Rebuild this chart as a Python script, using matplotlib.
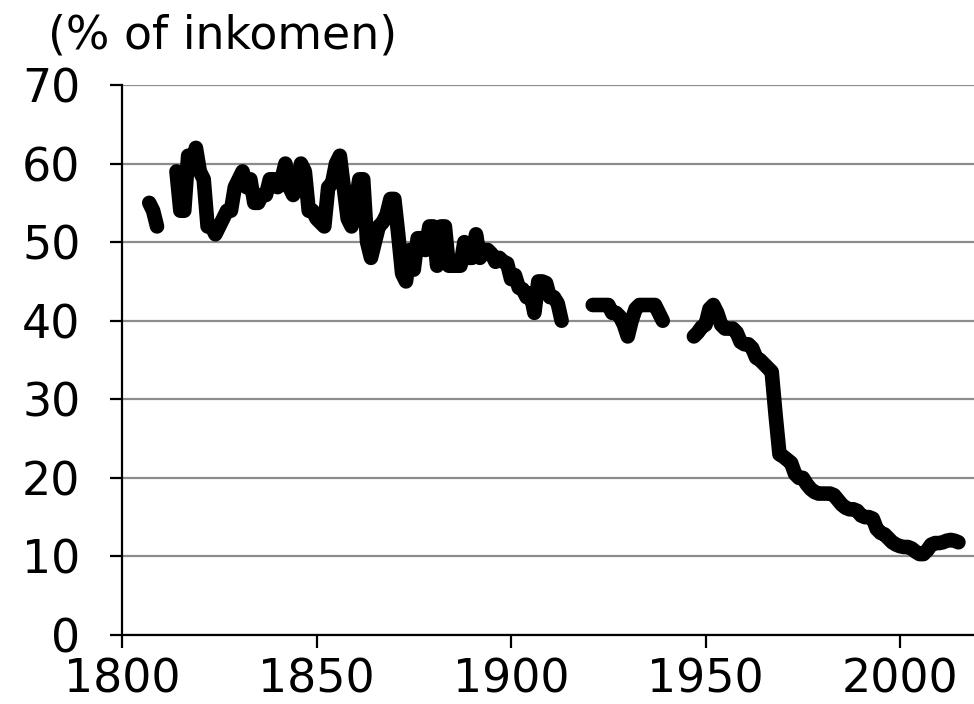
import numpy as np
import matplotlib.pyplot as plt

# share of income (%), annual values, gaps = no data
years_a = [1807, 1808, 1809]
share_a = [55, 54, 52]

years_b = list(range(1814, 1914))
share_b = [59, 54, 54, 61, 60, 62, 59, 58, 52, 52,
           51, 52, 53, 54, 54, 57, 58, 59, 57, 58,
           55, 55, 56, 56, 58, 58, 57, 58, 60, 57,
           56, 57, 60, 59, 54, 54, 53, 52.5, 52, 57,
           57.5, 60, 61, 57, 53, 52, 55, 58, 58, 50,
           48, 50, 52, 52.5, 53.5, 55.5, 55.5, 51, 46, 45,
           49, 46.5, 50.5, 50.5, 49, 52, 52, 47, 52, 52,
           47, 47, 47, 47, 50, 48, 48, 51, 48, 49,
           49, 48.5, 47.5, 48, 47.5, 47.3, 45.3, 45.8, 44.2, 44,
           43, 43.5, 41, 45, 45, 44.8, 43, 43, 42.2, 40]

years_c = list(range(1921, 1940))
share_c = [42, 42, 42, 42, 42, 41, 41, 40.5, 39.5, 38,
           40, 41.5, 42, 42, 42, 42, 42, 41, 40]

years_d = list(range(1947, 2016))
share_d = [38, 38.5, 39.2, 39.5, 41.5, 42, 41, 39.5, 39, 39,
           39, 38.5, 37.3, 37, 37, 36.5, 35.3, 35, 34.5, 34,
           33.5, 28, 23, 22.7, 22.3, 21.9, 20.5, 20, 20, 19.2,
           18.6, 18.2, 18, 18, 18, 18, 17.8, 17.2, 16.6, 16.2,
           16, 16, 15.8, 15.2, 15, 15, 14.8, 13.5, 13, 12.8,
           12.3, 11.8, 11.5, 11.3, 11.2, 11.2, 11, 10.6, 10.3, 10.3,
           10.8, 11.5, 11.7, 11.7, 11.8, 12, 12.1, 12, 11.8]

y_ticks = [0, 10, 20, 30, 40, 50, 60, 70]
x_ticks = [1800, 1850, 1900, 1950, 2000]

fig = plt.figure(figsize=(9.74, 7.04), dpi=100)
ax = fig.add_axes([122 / 974, 1 - 635 / 704, 1 - 122 / 974, (635 - 85) / 704])

for yrs, vals in [(years_a, share_a), (years_b, share_b), (years_c, share_c), (years_d, share_d)]:
    ax.plot(yrs, vals, color='black', linewidth=10.5,
            solid_capstyle='round', solid_joinstyle='round', zorder=3)

ax.set_xlim(1800, 2019)
ax.set_ylim(0, 70)
ax.set_xticks(x_ticks)
ax.set_yticks(y_ticks)
ax.yaxis.grid(True, color='#8c8c8c', linewidth=1.6)
ax.set_axisbelow(True)

for side in ['top', 'right']:
    ax.spines[side].set_visible(False)
for side in ['left', 'bottom']:
    ax.spines[side].set_linewidth(1.6)
    ax.spines[side].set_color('black')

ax.tick_params(axis='x', direction='out', length=9, width=1.6, pad=7, labelsize=33)
ax.tick_params(axis='y', direction='out', length=9, width=1.6, pad=21, labelsize=33)

fig.text(48 / 974, 1 - 36 / 704, '(% of inkomen)', fontsize=33, ha='left', va='center')

fig.savefig('out.png', dpi=100)
